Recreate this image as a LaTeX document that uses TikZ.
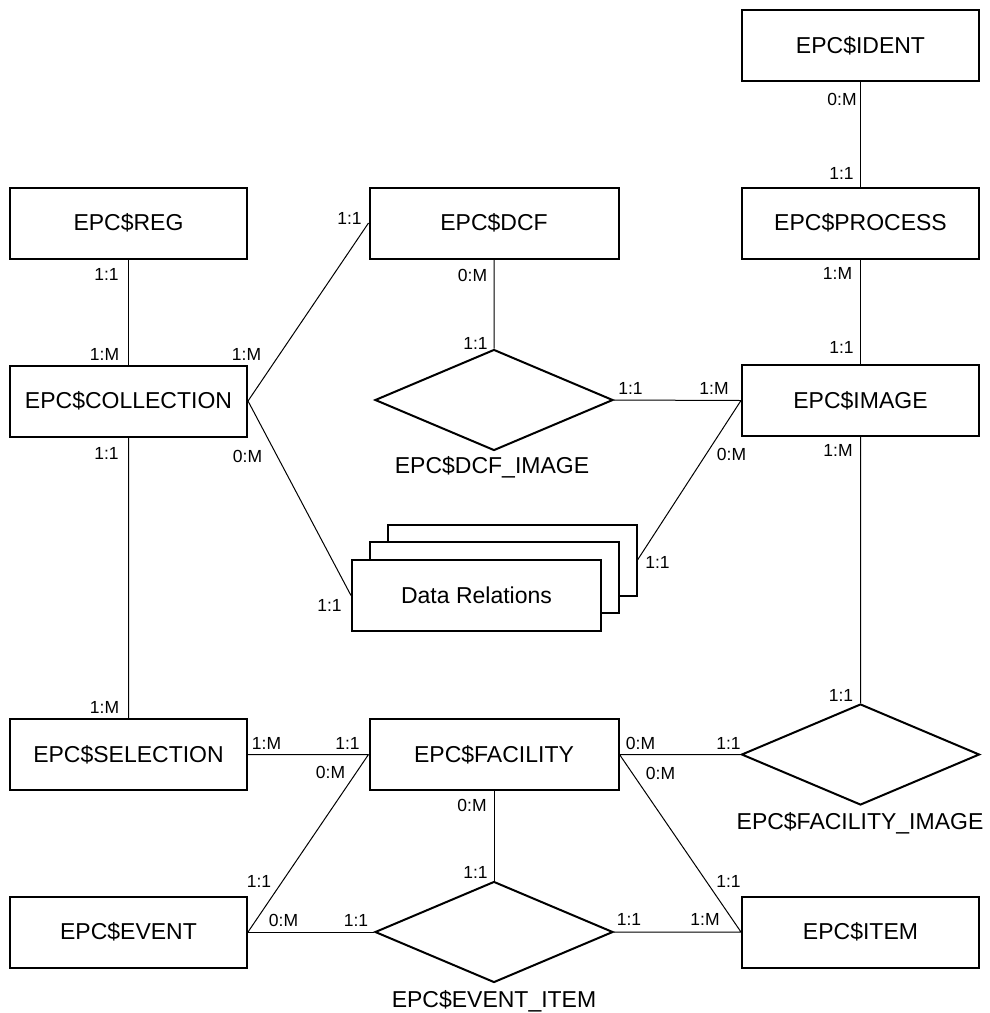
\documentclass[tikz,border=0pt]{standalone}
\usepackage{fontspec}
\setmainfont{Liberation Sans}
\usepackage{tikz}
\usetikzlibrary{shapes.geometric}
\newcommand{\bigtxt}{\fontsize{23}{27}\selectfont}
\newcommand{\cardtxt}{\fontsize{17.5}{20}\selectfont}
\tikzstyle{entity}=[rectangle, draw, line width=2pt, fill=white, minimum width=237pt, minimum height=71pt, inner sep=0pt, font=\bigtxt]
\tikzstyle{wideentity}=[entity, minimum width=249pt]
\tikzstyle{relation}=[diamond, draw, line width=2pt, minimum width=238pt, minimum height=101pt, inner sep=0pt]
\tikzstyle{relname}=[inner sep=0pt, font=\bigtxt]
\tikzstyle{card}=[inner sep=0pt, font=\cardtxt]

\begin{document}
\begin{tikzpicture}[x=1pt, y=-1pt, line width=1pt]
                \useasboundingbox (0, 0) rectangle (989, 1013);
                % entities
                \node[entity] (ident) at (860.5, 45.5) {EPC\$IDENT};
                \node[entity] (process) at (860.5, 223) {EPC\$PROCESS};
                \node[entity] (reg) at (128.5, 223) {EPC\$REG};
                \node[wideentity] (dcf) at (494, 223) {EPC\$DCF};
                \node[entity] (coll) at (128.5, 401) {EPC\$COLLECTION};
                \node[entity] (image) at (860.5, 400.5) {EPC\$IMAGE};
                \node[wideentity] (drel3) at (512, 560) {};
                \node[wideentity] (drel2) at (494, 577.5) {};
                \node[wideentity] (drel) at (476.5, 595.5) {Data Relations};
                \node[entity] (sel) at (128.5, 754.5) {EPC\$SELECTION};
                \node[wideentity] (fac) at (494, 754.5) {EPC\$FACILITY};
                \node[entity] (event) at (128.5, 932) {EPC\$EVENT};
                \node[entity] (item) at (860.5, 932) {EPC\$ITEM};
                % relations
                \node[relation] (dcfimage) at (494, 400) {};
                \node[relation] (facimage) at (860.5, 754.5) {};
                \node[relation] (evitem) at (494, 932) {};
                \node[relname] (dcfimagename) at (492, 467) {EPC\$DCF\_IMAGE};
                \node[relname] (facimagename) at (860, 823) {EPC\$FACILITY\_IMAGE};
                \node[relname] (evitemname) at (494, 1001) {EPC\$EVENT\_ITEM};
                % connectors
                \draw (ident)--(process) (process)--(image) (reg)--(coll);
                \draw (coll.east)--(dcf.west) (coll.east)--(drel.west);
                \draw (dcf)--(dcfimage) (dcfimage.east)--(image.west);
                \draw (image.west)--(drel3.east) (image)--(facimage);
                \draw (coll)--(sel) (sel)--(fac) (fac.west)--(event.east);
                \draw (fac)--(evitem) (event)--(evitem);
                \draw (fac.east)--(facimage.west) (fac.east)--(item.west) (evitem)--(item);
                % cardinalities
                \node[card] (identproc1) at (842, 99) {0:M};
                \node[card] (identproc2) at (841.5, 173) {1:1};
                \node[card] (procimg1) at (837.5, 273) {1:M};
                \node[card] (procimg2) at (841.5, 347) {1:1};
                \node[card] (regcoll1) at (106.5, 274) {1:1};
                \node[card] (regcoll2) at (104.5, 354) {1:M};
                \node[card] (colldcf1) at (246.5, 354) {1:M};
                \node[card] (colldcf2) at (349.5, 218) {1:1};
                \node[card] (colldrel1) at (247.5, 456) {0:M};
                \node[card] (colldrel2) at (329.5, 605) {1:1};
                \node[card] (dcfrel1) at (472.5, 275) {0:M};
                \node[card] (dcfrel2) at (475.5, 343) {1:1};
                \node[card] (relimg1) at (630.5, 388) {1:1};
                \node[card] (relimg2) at (714, 388) {1:M};
                \node[card] (imgdrel1) at (731.5, 454) {0:M};
                \node[card] (imgdrel2) at (657.5, 562) {1:1};
                \node[card] (imgfac1) at (838, 450) {1:M};
                \node[card] (imgfac2) at (841, 695) {1:1};
                \node[card] (collsel1) at (106.5, 453) {1:1};
                \node[card] (collsel2) at (104.5, 707) {1:M};
                \node[card] (selfac1) at (266.5, 743) {1:M};
                \node[card] (selfac2) at (347.5, 743) {1:1};
                \node[card] (facev1) at (330.5, 772) {0:M};
                \node[card] (facev2) at (259, 881) {1:1};
                \node[card] (facei1) at (472, 805) {0:M};
                \node[card] (facei2) at (475.5, 872) {1:1};
                \node[card] (evei1) at (283.5, 920) {0:M};
                \node[card] (evei2) at (356, 920) {1:1};
                \node[card] (facfi1) at (640.5, 743) {0:M};
                \node[card] (facfi2) at (728.5, 743) {1:1};
                \node[card] (facitem1) at (660.5, 773) {0:M};
                \node[card] (facitem2) at (728.5, 881) {1:1};
                \node[card] (eiitem1) at (629, 919) {1:1};
                \node[card] (eiitem2) at (705, 919) {1:M};
            \end{tikzpicture}
\end{document}
